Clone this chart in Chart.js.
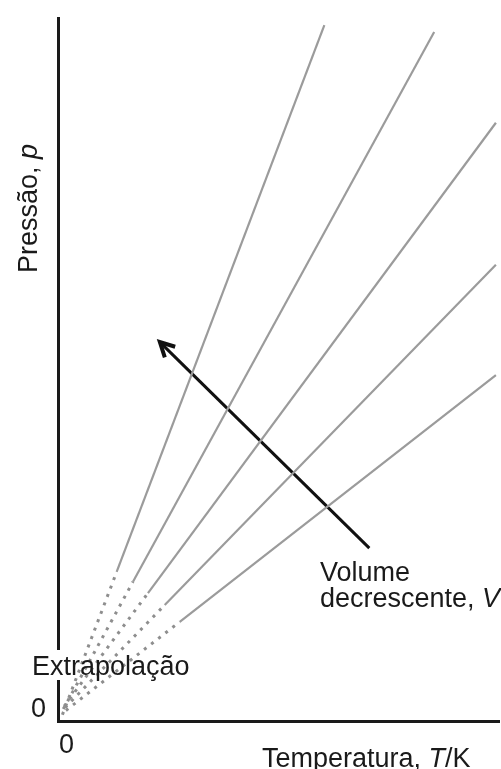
<!DOCTYPE html>
<html>
<head>
<meta charset="utf-8">
<script src="https://cdn.jsdelivr.net/npm/chart.js@4.4.1/dist/chart.umd.min.js"></script>
<style>
  html, body { margin: 0; padding: 0; background: #fff; }
  #wrap { width: 501px; height: 769px; }
</style>
</head>
<body>
<div id="wrap"><canvas id="isocoras" width="501" height="769"></canvas></div>
<script>
// isocoras: pressão contra temperatura, um traço por volume
const volumes = ["V1", "V2", "V3", "V4", "V5"];
// parte extrapolada (pontilhada), perto da origem
const inicioT = [1.0, 1.2, 1.4, 1.6, 1.8];
const inicioP = [0.9, 1.7, 2.1, 1.9, 1.5];
// onde começa o traço contínuo
const solidoT = [13.3, 17.0, 20.4, 24.2, 27.6];
const solidoP = [21.2, 19.8, 18.2, 16.5, 14.1];
// fim de cada reta
const fimT = [60.4, 85.3, 99.3, 99.3, 99.3];
const fimP = [99.0, 98.0, 85.1, 64.9, 49.2];
// seta "volume decrescente"
const setaT = [70.6, 23.1];
const setaP = [24.6, 53.9];

const FONTE = "27px 'Liberation Sans', Arial, sans-serif";
const FONTE_IT = "italic 27px 'Liberation Sans', Arial, sans-serif";
const CINZA = "#9b9b9b";

const datasets = [];
volumes.forEach((v, i) => {
  datasets.push({
    label: v + " extrapolado",
    data: [{ x: inicioT[i], y: inicioP[i] }, { x: solidoT[i], y: solidoP[i] }],
    borderColor: "#8e8e8e",
    borderWidth: 3,
    borderDash: [3, 6]
  });
  datasets.push({
    label: v,
    data: [{ x: solidoT[i], y: solidoP[i] }, { x: fimT[i], y: fimP[i] }],
    borderColor: CINZA,
    borderWidth: 2.2
  });
});
datasets.push({
  label: "seta",
  data: setaT.map((t, i) => ({ x: t, y: setaP[i] })),
  borderColor: "#111",
  borderWidth: 3
});

// texto com partes em itálico
function escreve(ctx, partes, x, y) {
  let cx = x;
  partes.forEach(([txt, it]) => {
    ctx.font = it ? FONTE_IT : FONTE;
    ctx.fillText(txt, cx, y);
    cx += ctx.measureText(txt).width;
  });
}

const textosPlugin = {
  id: "textos",
  afterDraw(chart) {
    const { ctx, scales } = chart;
    const x0 = scales.x.getPixelForValue(0);
    const y0 = scales.y.getPixelForValue(0);

    ctx.save();

    // ponta da seta
    const meta = chart.getDatasetMeta(datasets.length - 1);
    const a = meta.data[0], b = meta.data[1];
    const ang = Math.atan2(b.y - a.y, b.x - a.x);
    ctx.strokeStyle = "#111";
    ctx.lineWidth = 4;
    ctx.lineJoin = "miter";
    ctx.beginPath();
    ctx.moveTo(b.x - 16 * Math.cos(ang - 0.48), b.y - 16 * Math.sin(ang - 0.48));
    ctx.lineTo(b.x, b.y);
    ctx.lineTo(b.x - 16 * Math.cos(ang + 0.48), b.y - 16 * Math.sin(ang + 0.48));
    ctx.stroke();

    // interrupção do eixo sob o rótulo
    ctx.fillStyle = "#fff";
    ctx.fillRect(x0 - 4, 650, 8, 30);

    ctx.fillStyle = "#1a1a1a";
    ctx.textBaseline = "alphabetic";
    ctx.textAlign = "left";

    escreve(ctx, [["Extrapolação", false]], 32, 675);
    escreve(ctx, [["0", false]], x0 - 27, y0 - 4);
    escreve(ctx, [["0", false]], x0 + 1, y0 + 32);
    escreve(ctx, [["Volume", false]], 320, 581);
    escreve(ctx, [["decrescente, ", false], ["V", true]], 320, 607);
    escreve(ctx, [["Temperatura, ", false], ["T", true], ["/K", false]], 262, 767);

    // título do eixo vertical
    ctx.translate(37, 273);
    ctx.rotate(-Math.PI / 2);
    escreve(ctx, [["Pressão, ", false], ["p", true]], 0, 0);

    ctx.restore();
  }
};

new Chart(document.getElementById("isocoras").getContext("2d"), {
  type: "scatter",
  data: { datasets },
  options: {
    responsive: false,
    animation: false,
    showLine: true,
    layout: { padding: { left: 58, right: 2, top: 18, bottom: 48 } },
    elements: { point: { radius: 0, hoverRadius: 0 }, line: { tension: 0 } },
    plugins: { legend: { display: false }, tooltip: { enabled: false } },
    scales: {
      x: {
        type: "linear", min: 0, max: 100,
        grid: { display: false, drawTicks: false },
        ticks: { display: false },
        border: { color: "#1a1a1a", width: 3 },
        afterFit: (s) => { s.height = 0; }
      },
      y: {
        type: "linear", min: 0, max: 100,
        grid: { display: false, drawTicks: false },
        ticks: { display: false },
        border: { color: "#1a1a1a", width: 3 },
        afterFit: (s) => { s.width = 0; }
      }
    }
  },
  plugins: [textosPlugin]
});
</script>
</body>
</html>
